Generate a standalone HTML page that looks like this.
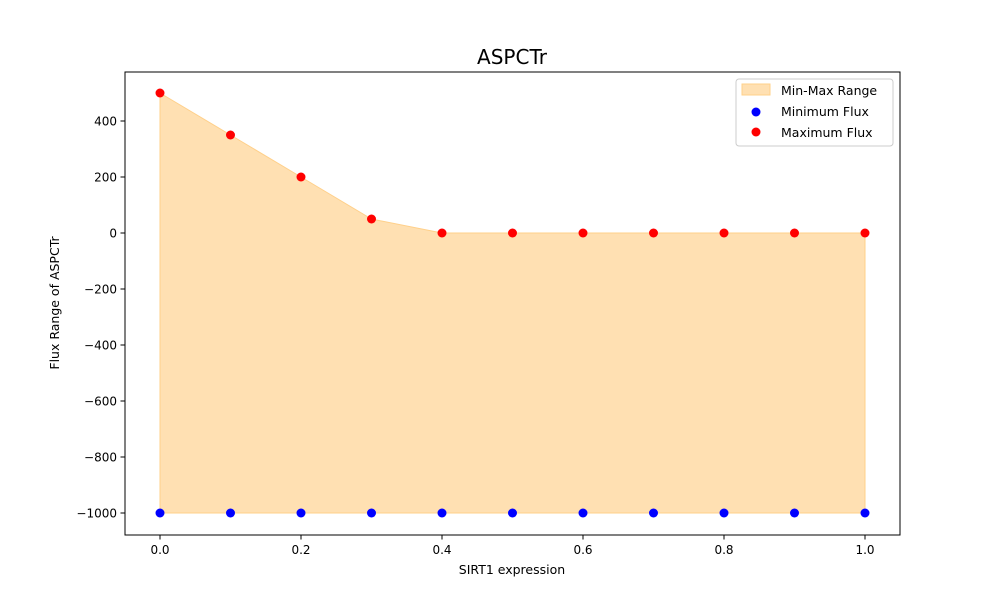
<!DOCTYPE html>
<html><head><meta charset="utf-8"><style>
body{margin:0;background:#fff}
svg{font-family:"DejaVu Sans","Liberation Sans",sans-serif}
</style></head><body>
<svg id="chart" width="1000" height="600">
<rect width="1000" height="600" fill="#fff"/>
<text x="512" y="64" font-size="20" text-anchor="middle">ASPCTr</text>
<g id="plot"></g>
<rect x="125" y="72" width="775" height="463" fill="none" stroke="#000" stroke-width="1"/>
<text x="512" y="574" font-size="12.5" text-anchor="middle">SIRT1 expression</text>
<text transform="translate(59,303) rotate(-90)" font-size="12.5" text-anchor="middle">Flux Range of ASPCTr</text>
<g>
<rect x="736" y="79" width="157" height="67" rx="3" fill="#fff" fill-opacity="0.8" stroke="#ccc"/>
<rect x="742" y="84" width="28" height="11" fill="#ffe0b2" stroke="#ffd08a"/>
<text x="781" y="95" font-size="12.5">Min-Max Range</text>
<circle cx="756" cy="112" r="4.5" fill="#0000ff"/>
<text x="781" y="116" font-size="12.5">Minimum Flux</text>
<circle cx="756" cy="132" r="4.5" fill="#ff0000"/>
<text x="781" y="137" font-size="12.5">Maximum Flux</text>
</g>
</svg>
<script>
const xs=[0,0.1,0.2,0.3,0.4,0.5,0.6,0.7,0.8,0.9,1.0];
const maxFlux=[500,350,200,50,0,0,0,0,0,0,0];
const minFlux=[-1000,-1000,-1000,-1000,-1000,-1000,-1000,-1000,-1000,-1000,-1000];
const xTicks=[0,0.2,0.4,0.6,0.8,1.0];
const xTickLabels=["0.0","0.2","0.4","0.6","0.8","1.0"];
const yTicks=[-1000,-800,-600,-400,-200,0,200,400];
const yTickLabels=["\u22121000","\u2212800","\u2212600","\u2212400","\u2212200","0","200","400"];
const X=v=>160+v*705;
const Y=v=>233-v*0.28;
const NS="http://www.w3.org/2000/svg";
const g=document.getElementById('plot');
function mk(t,a){const e=document.createElementNS(NS,t);for(const k in a)e.setAttribute(k,a[k]);g.appendChild(e);return e;}
let d=xs.map((x,i)=>(i?'L':'M')+X(x)+','+Y(maxFlux[i])).join('');
for(let i=xs.length-1;i>=0;i--)d+='L'+X(xs[i])+','+Y(minFlux[i]);
const area=mk('path',{d:d+'Z',fill:'#ffe0b2',stroke:'#ffd08a','stroke-width':1});


xs.forEach((x,i)=>{
 const a=mk('circle',{cx:X(x),cy:Y(minFlux[i]),r:4.5,fill:'#0000ff'});
 
 
 const b=mk('circle',{cx:X(x),cy:Y(maxFlux[i]),r:4.5,fill:'#ff0000'});
 
 
});
xTicks.forEach((v,i)=>{
 const l=mk('line',{x1:X(v),x2:X(v),y1:535,y2:539.5,stroke:'#000'});
 
 
 const t=mk('text',{x:X(v),y:554,'font-size':12,'text-anchor':'middle'});
 t.textContent=xTickLabels[i];
 
 
});
yTicks.forEach((v,i)=>{
 const l=mk('line',{x1:120.5,x2:125,y1:Y(v),y2:Y(v),stroke:'#000'});
 
 
 const t=mk('text',{x:117,y:Y(v)+4.5,'font-size':12,'text-anchor':'end'});
 t.textContent=yTickLabels[i];
 
 
});
</script>
</body></html>
